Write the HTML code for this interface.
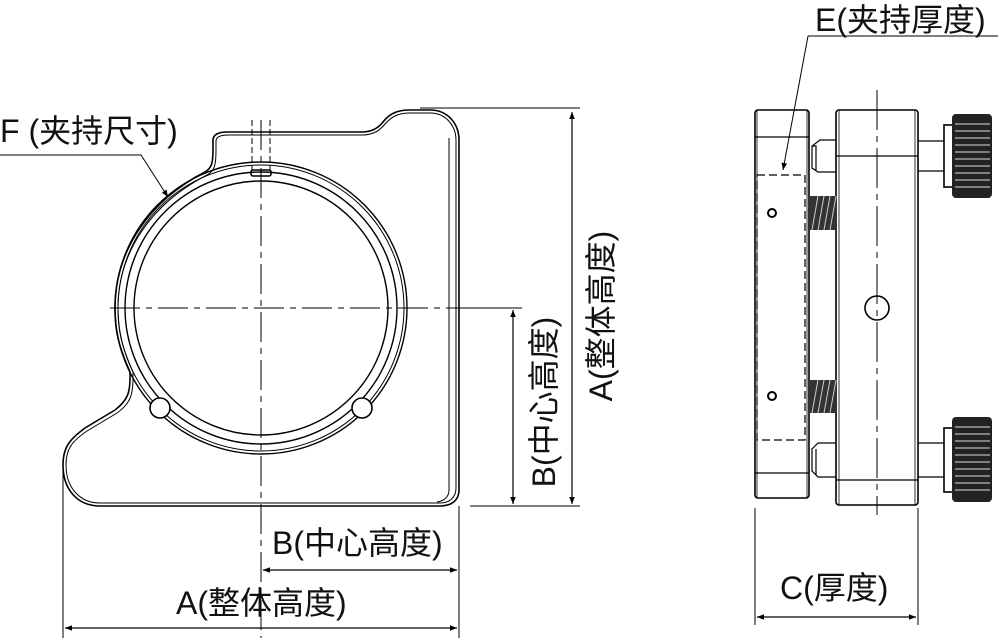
<!DOCTYPE html>
<html><head><meta charset="utf-8"><style>
html,body{margin:0;padding:0;background:#fff;}
svg{display:block;}
text{font-family:"Liberation Sans","Noto Sans CJK SC",sans-serif;font-size:32px;fill:#111;}
</style></head><body>
<svg width="1000" height="638" viewBox="0 0 1000 638" xmlns="http://www.w3.org/2000/svg">
<defs>
<marker id="ar" viewBox="0 0 10 10" refX="10" refY="5" markerWidth="16" markerHeight="7" markerUnits="userSpaceOnUse" orient="auto-start-reverse"><path d="M0,1 L10,5 L0,9z" fill="#000"/></marker>
</defs>
<g fill="none" stroke="#000" stroke-width="1.6">
<path d="M227,132 L362,132 C372,132 378,128 383,122 C390,113 398,110 410,110 L430,110 C448,110 459,124 459,140 L459,490 C459,500 452,506 440,506 L100,506 C78,506 63,490 63,465 C63,445 72,438 85,428 L115,410 C128,400 130,392 130,378 L130,372 C118,345 115,330 115,308 C115,250 150,200 205,172 C212,168 213,162 213,150 L213,140 C213,135 218,132 227,132 Z"/>
<path d="M229,135 L362,135 C374,135 380,130 385,124 C392,116 399,113 410,113 L430,113 C446,113 456,126 456,140 L456,488 C456,498 449,503 440,503 L100,503 C80,503 66,488 66,465 C66,447 74,440 87,431 L117,413 C131,403 133,394 133,378 L133,372 C121,345 118,330 118,308 C118,252 152,203 207,175 C215,171 216,164 216,150 L216,141 C216,137 220,135 229,135 Z" stroke-width="1"/>
<path d="M449,138 L449,490 C449,497 444,501 437,502" stroke-width="1"/>
<circle cx="261" cy="308" r="146" stroke-width="1.4"/>
<circle cx="261" cy="308" r="143" stroke-width="1"/>
<circle cx="261" cy="308" r="136" stroke-width="1.4"/>
<circle cx="261" cy="308" r="127" stroke-width="1.4"/>
<circle cx="160" cy="408" r="10" fill="#fff"/>
<circle cx="362" cy="408" r="10" fill="#fff"/>
<rect x="251" y="170" width="20" height="6" rx="2"/>
<path d="M252,120 V170 M270,120 V170" stroke-dasharray="6,3" stroke-width="1"/>
<path d="M261,120 V638 M110,308 H520" stroke-width="1" stroke-dasharray="30,6,6,6"/>
<path d="M420,108 H580 M470,506 H580 M470,308 H522" stroke-width="1"/>
<path d="M572,112 V504" stroke-width="1.2" marker-start="url(#ar)" marker-end="url(#ar)"/>
<path d="M513,310 V504" stroke-width="1.2" marker-start="url(#ar)" marker-end="url(#ar)"/>
<path d="M63,470 V638 M459,506 V638" stroke-width="1"/>
<path d="M263,570 H457" stroke-width="1.2" marker-start="url(#ar)" marker-end="url(#ar)"/>
<path d="M65,628 H457" stroke-width="1.2" marker-start="url(#ar)" marker-end="url(#ar)"/>
<path d="M0,155 H141 L168,197" stroke-width="1" marker-end="url(#ar)"/>
<rect x="755" y="110" width="54" height="388" rx="3"/>
<path d="M757,110 V498 M807,110 V498" stroke-width="0.8"/>
<path d="M755,137 H809 M755,473 H809" stroke-width="1.2"/>
<rect x="757" y="175" width="48" height="265" stroke-dasharray="8,4" stroke-width="1.2"/>
<circle cx="772" cy="213" r="4" stroke-width="2"/>
<circle cx="772" cy="396" r="4" stroke-width="2"/>
<rect x="836" y="110" width="82" height="395" rx="3"/>
<path d="M839,110 V505 M915,110 V505" stroke-width="0.8"/>
<path d="M836,156 H918 M836,480 H918" stroke-width="1.2"/>
<circle cx="877" cy="308" r="12"/>
<path d="M877,90 V515" stroke-width="1" stroke-dasharray="40,6,6,6"/>
<path d="M836,140 H820 L812,146 V168 L818,172 H836 M812,146 H816 V170" stroke-width="1.2"/>
<path d="M836,443 H818 L812,449 V471 L818,477 H836 M816,449 V475" stroke-width="1.2"/>
<path d="M918,141 H944 M918,171 H944 M918,443 H944 M918,477 H944" stroke-width="1.2"/>
<rect x="944" y="125" width="10" height="62"/>
<rect x="944" y="428" width="10" height="64"/>
<path d="M755,508 V625 M918,508 V625" stroke-width="1"/>
<path d="M757,617 H916" stroke-width="1.2" marker-start="url(#ar)" marker-end="url(#ar)"/>
<path d="M808,36 L783,170" stroke-width="1" marker-end="url(#ar)"/>
<path d="M808,36 H998" stroke-width="1"/>
</g>
<g>
<rect x="952" y="114" width="40" height="84" rx="4" fill="#222"/>
<rect x="952" y="417" width="40" height="85" rx="4" fill="#222"/>
<g stroke="#ddd" stroke-width="1">
<path d="M955,124H990M955,131H990M955,138H990M955,145H990M955,152H990M955,159H990M955,166H990M955,173H990M955,180H990M955,187H990"/>
<path d="M955,427H990M955,434H990M955,441H990M955,448H990M955,455H990M955,462H990M955,469H990M955,476H990M955,483H990M955,490H990"/>
</g>
<rect x="810" y="196" width="26" height="34" fill="#333"/>
<rect x="810" y="380" width="26" height="33" fill="#333"/>
<g stroke="#ccc" stroke-width="1">
<path d="M812,230L818,196M818,230L824,196M824,230L830,196M830,230L836,196"/>
<path d="M812,413L818,380M818,413L824,380M824,413L830,380M830,413L836,380"/>
</g>
</g>
<text x="0" y="142">F (夹持尺寸)</text>
<text x="815" y="31">E(夹持厚度)</text>
<text x="272" y="554">B(中心高度)</text>
<text x="176" y="614">A(整体高度)</text>
<text x="780" y="599">C(厚度)</text>
<text transform="translate(555,402) rotate(-90)" text-anchor="middle">B(中心高度)</text>
<text transform="translate(612,316) rotate(-90)" text-anchor="middle">A(整体高度)</text>
</svg>
</body></html>
